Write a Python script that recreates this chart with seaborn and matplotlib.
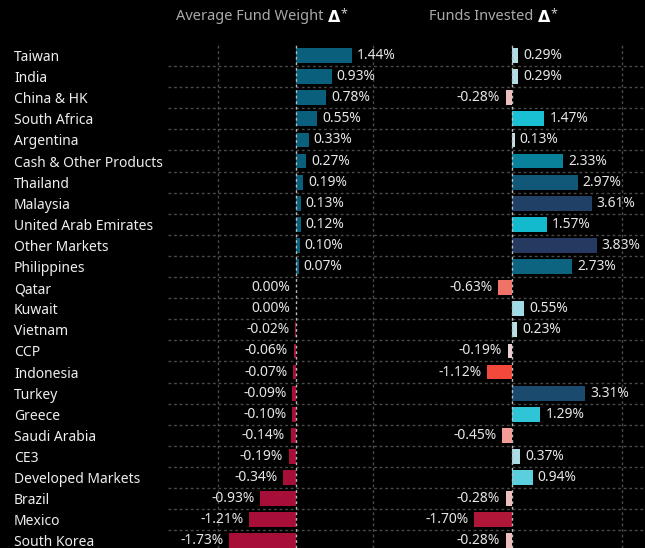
import matplotlib
matplotlib.use('Agg')
import matplotlib.pyplot as plt
import seaborn as sns
import numpy as np
from matplotlib.colors import LinearSegmentedColormap, Normalize

categories = ["Taiwan", "India", "China & HK", "South Africa", "Argentina",
              "Cash & Other Products", "Thailand", "Malaysia", "United Arab Emirates",
              "Other Markets", "Philippines", "Qatar", "Kuwait", "Vietnam", "CCP",
              "Indonesia", "Turkey", "Greece", "Saudi Arabia", "CE3",
              "Developed Markets", "Brazil", "Mexico", "South Korea"]
avg_weight_delta = [1.44, 0.93, 0.78, 0.55, 0.33, 0.27, 0.19, 0.13, 0.12, 0.10, 0.07,
                    0.00, 0.00, -0.02, -0.06, -0.07, -0.09, -0.10, -0.14, -0.19, -0.34,
                    -0.93, -1.21, -1.73]
funds_invested_delta = [0.29, 0.29, -0.28, 1.47, 0.13, 2.33, 2.97, 3.61, 1.57, 3.83, 2.73,
                        -0.63, 0.55, 0.23, -0.19, -1.12, 3.31, 1.29, -0.45, 0.37, 0.94,
                        -0.28, -1.70, -0.28]
panel_titles = ["Average Fund Weight ", "Funds Invested "]

W, H = 645, 548
fig = plt.figure(figsize=(W / 100, H / 100), dpi=100, facecolor="black")
sns.set_style("dark")
plt.rcParams['font.family'] = ['Noto Sans', 'DejaVu Sans']

def px_ax(x0, x1, y0, y1):
    return fig.add_axes([x0 / W, 1 - y1 / H, (x1 - x0) / W, (y1 - y0) / H])

ax1 = px_ax(168, 401, 45, 548)
ax2 = px_ax(401, 645, 45, 548)

POS_L, NEG_L = "#0a5f7c", "#a80f38"
left_colors = [POS_L if v > 0 else NEG_L for v in avg_weight_delta]

nodes = [(-1.80, "#a50e37"), (-1.12, "#f44a3c"), (-0.63, "#f07468"), (-0.45, "#f2a099"),
         (-0.20, "#eccdd1"), (0.0, "#d2e3e8"), (0.13, "#c5e0e6"), (0.30, "#b0dde6"),
         (0.55, "#9fdbe6"), (0.94, "#5ccfdd"), (1.5, "#14bfd2"), (2.33, "#0a819a"),
         (2.85, "#0d5c7a"), (3.31, "#1a4a6e"), (3.90, "#27375f")]
lo, hi = nodes[0][0], nodes[-1][0]
cmap = LinearSegmentedColormap.from_list(
    "fi", [((v - lo) / (hi - lo), c) for v, c in nodes])
norm = Normalize(lo, hi)
right_colors = [cmap(norm(v)) for v in funds_invested_delta]

n = len(categories)
for ax, vals, cols, xlim, xt in [
        (ax1, avg_weight_delta, left_colors, (-3.30, 2.71), [-2, 0, 2]),
        (ax2, funds_invested_delta, right_colors, (-5.02, 6.02), [0, 5])]:
    ax.set_facecolor("black")
    sns.barplot(x=vals, y=categories, hue=categories, palette=cols, legend=False,
                orient="h", width=0.7, saturation=1, ax=ax, zorder=3,
                edgecolor="none", linewidth=0)
    ax.set_xlim(*xlim)
    ax.set_ylim(n - 1 + 0.34, -0.5)
    ax.set_xticks(xt)
    ax.grid(False)
    for x in xt:
        ax.axvline(x, color="#bbbbbb" if x == 0 else "#4a4a4a",
                   lw=1, ls=(0, (2, 2)), zorder=1 if x else 4)
    for yy in np.arange(0.5, n - 1, 1.0):
        ax.axhline(yy, color="#4a4a4a", lw=1, ls=(0, (2, 2)), zorder=1)
    ax.tick_params(axis="x", length=0, labelbottom=False)
    ax.tick_params(axis="y", which="both", length=0)
    for s in ax.spines.values():
        s.set_visible(False)
    ax.set_xlabel("")
    ax.set_ylabel("")
    for i, v in enumerate(vals):
        pos = v > 0
        ax.annotate(f"{v:.2f}%", xy=(v, i), xytext=(3.5 if pos else -4, 0),
                    textcoords="offset points", ha="left" if pos else "right",
                    va="center", color="#e6e6e6", fontsize=10, zorder=5)

ax1.set_yticks(range(n))
ax1.set_yticklabels(categories, ha="left", color="#eeeeee", fontsize=10)
ax1.tick_params(axis="y", pad=154 * 0.72)
ax2.set_yticks(range(n))
ax2.tick_params(axis="y", labelleft=False)

ty = 1 - 17 / H
for xr, t in [(327, panel_titles[0]), (537, panel_titles[1])]:
    fig.text(xr / W, ty, t, ha="right", va="center", color="#aaaaaa", fontsize=10.5,
             fontweight="light")
    fig.text((xr + 1) / W, ty, "\u0394", ha="left", va="center", color="white",
             fontsize=11.5, fontweight="bold", family=["DejaVu Sans"])
    fig.text((xr + 13) / W, ty + 0.006, "*", ha="left", va="center", color="#cccccc",
             fontsize=9)

fig.savefig("out.png", dpi=100, facecolor="black")
